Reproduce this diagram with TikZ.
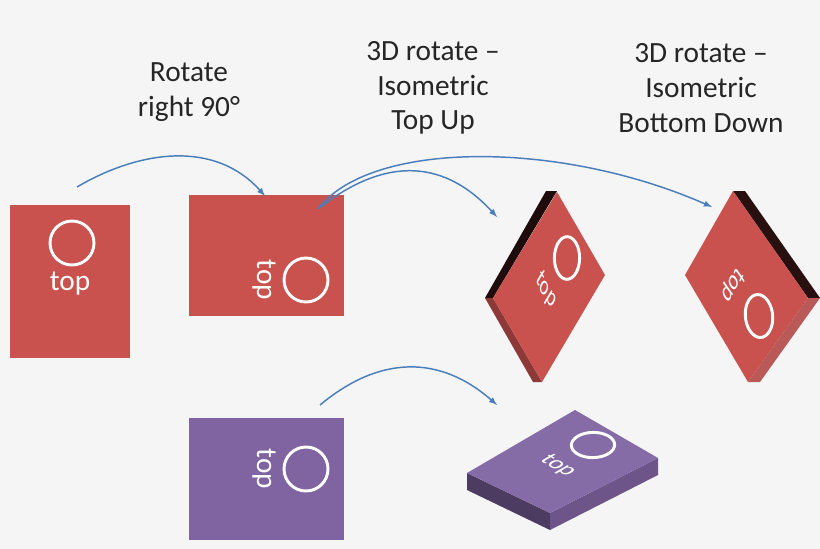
\documentclass[tikz,border=0pt]{standalone}
\usepackage{fontspec}
\setmainfont{Carlito}
\definecolor{bg}{HTML}{F5F5F5}
\definecolor{brick}{HTML}{C9514E}
\definecolor{plum}{HTML}{8064A2}
\definecolor{flow}{HTML}{4A7EBB}
\begin{document}
\begin{tikzpicture}[x=0.75pt,y=-0.75pt]
\tikzstyle{plaque}=[draw=none]
\tikzstyle{marque}=[text=white,font=\fontsize{22}{26}\selectfont,inner sep=0pt]
\tikzstyle{anneau}=[draw=white,line width=2.2pt]
\tikzstyle{legende}=[align=center,font=\fontsize{22}{26}\selectfont,text=black!85]
\tikzstyle{fleche}=[->,>=latex,flow,line width=1.1pt]

\fill[bg] (0,0) rectangle (820,549);

% flat cards
\fill[brick] (10,205) rectangle (130,358);
\draw[anneau] (72,243) circle (22);
\node[marque] (t1) at (70,284) {top};

\fill[brick] (189,195) rectangle (344,316);
\draw[anneau] (306,280) circle (22);
\node[marque,rotate=-90] (t2) at (264,280) {top};

\fill[plum] (189,418) rectangle (344,540);
\draw[anneau] (306,469) circle (22);
\node[marque,rotate=-90] (t3) at (264,469) {top};

% isometric top up
\fill[black!85!brick] (485,298) -- (546,191) -- (557,191) -- (493,298) -- cycle;
\fill[brick!70!black] (485,298) -- (533,382) -- (542,382) -- (493,298) -- cycle;
\fill[brick] (557,192) -- (605,275) -- (542,382) -- (493,298) -- cycle;
\begin{scope}[shift={(567,258)},cm={0.40,-0.69,0.41,0.68,(0,0)}]
\draw[anneau] (0,0) circle (22);
\end{scope}
\begin{scope}[shift={(546,290)},cm={0.40,-0.69,0.41,0.68,(0,0)}]
\node[marque,transform shape] (t4) at (0,0) {top};
\end{scope}

% isometric bottom down
\fill[black!80!brick] (733,191) -- (745,191) -- (820,298) -- (808,298) -- cycle;
\fill[brick!80!gray] (808,298) -- (820,298) -- (760,382) -- (748,382) -- cycle;
\fill[brick] (733,191) -- (808,298) -- (748,382) -- (685,275) -- cycle;
\begin{scope}[shift={(759,316)},cm={-0.40,-0.69,0.48,-0.69,(0,0)}]
\draw[anneau] (0,0) circle (22);
\end{scope}
\begin{scope}[shift={(733,285)},cm={-0.40,-0.69,0.48,-0.69,(0,0)}]
\node[marque,transform shape] (t5) at (0,0) {top};
\end{scope}

% isometric flat
\fill[plum!60!black] (467,473) -- (467,490) -- (550,530) -- (550,513) -- cycle;
\fill[plum!85!black] (658,458) -- (658,475) -- (550,530) -- (550,513) -- cycle;
\fill[plum!95!white] (575,410) -- (658,458) -- (550,513) -- (467,473) -- cycle;
\begin{scope}[shift={(593,445)},cm={0.69,-0.40,0.70,0.41,(0,0)}]
\draw[anneau] (0,0) circle (22);
\end{scope}
\begin{scope}[shift={(558,466)},cm={0.69,-0.40,0.70,0.41,(0,0)}]
\node[marque,transform shape] (t6) at (0,0) {top};
\end{scope}

% captions
\node[legende] (c1) at (189,92) {Rotate\\right 90°};
\node[legende] (c2) at (433,88) {3D rotate –\\Isometric\\Top Up};
\node[legende] (c3) at (701,88) {3D rotate –\\Isometric\\Bottom Down};

% arrows
\coordinate (a0) at (77,187);
\coordinate (a1) at (265,196);
\coordinate (b0) at (318,209);
\coordinate (b1) at (497,217);
\coordinate (b2) at (712,207);
\coordinate (d0) at (320,405);
\coordinate (d1) at (497,405);
\draw[fleche] (a0) .. controls (140,150) and (215,140) .. (a1);
\draw[fleche] (b0) .. controls (380,160) and (440,155) .. (b1);
\draw[fleche] (b0) .. controls (370,140) and (560,140) .. (b2);
\draw[fleche] (d0) .. controls (380,355) and (440,355) .. (d1);
\end{tikzpicture}
\end{document}
